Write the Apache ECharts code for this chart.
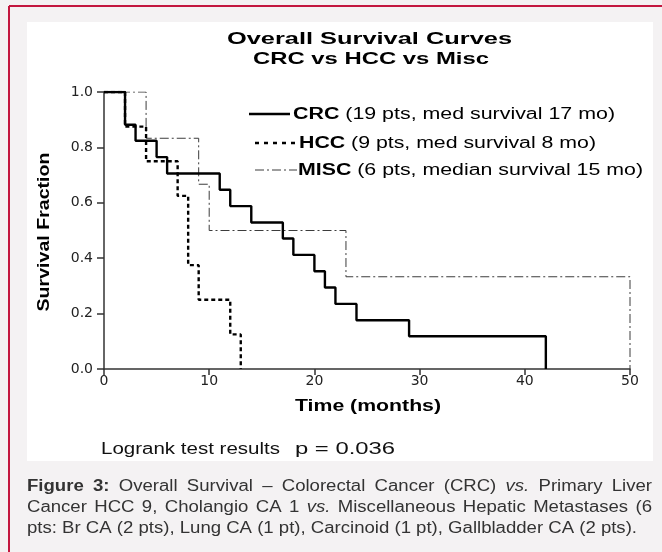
<!DOCTYPE html>
<html>
<head>
<meta charset="utf-8">
<title>Overall Survival Curves</title>
<script src="https://cdn.jsdelivr.net/npm/echarts/dist/echarts.min.js"></script>
<style>
  html, body { margin: 0; padding: 0; background: #f4f2f3; }
  #main { width: 662px; height: 552px; }
</style>
</head>
<body>
<div id="main"></div>
<script>
// Kaplan-Meier steps: time in months, survival fraction after the step
var crcTime = [0, 2, 3, 5, 6, 11, 12, 14, 17, 18, 20, 21, 22, 24, 29, 42];
var crcSurv = [1, 0.882, 0.824, 0.765, 0.706, 0.647, 0.588, 0.529, 0.471, 0.412, 0.353, 0.294, 0.235, 0.176, 0.118, 0];
var hccTime = [0, 2, 4, 7, 8, 9, 12, 13];
var hccSurv = [1, 0.875, 0.75, 0.625, 0.375, 0.25, 0.125, 0];
var miscTime = [0, 4, 9, 10, 23, 50];
var miscSurv = [1, 0.833, 0.667, 0.5, 0.333, 0];

var xTickLabels = ['0', '10', '20', '30', '40', '50'];
var yTickLabels = ['0.0', '0.2', '0.4', '0.6', '0.8', '1.0'];

var groupNames = ['CRC', 'HCC', 'MISC'];
var groupNotes = [' (19 pts, med survival 17 mo)', ' (9 pts, med survival 8 mo)', ' (6 pts, median survival 15 mo)'];

var titleLines = ['Overall Survival Curves', 'CRC vs HCC vs Misc'];
var xTitle = 'Time (months)';
var yTitle = 'Survival Fraction';
var logrankText = ['Logrank test results', 'p = 0.036'];

// caption: [text, weight, style]
var captionLines = [
  [['Figure 3:', 'bold'], [' Overall Survival \u2013 Colorectal Cancer (CRC) '], ['vs.', 'normal', 'italic'], [' Primary Liver']],
  [['Cancer HCC 9, Cholangio CA 1 '], ['vs.', 'normal', 'italic'], [' Miscellaneous Hepatic Metastases (6']],
  [['pts: Br CA (2 pts), Lung CA (1 pt), Carcinoid (1 pt), Gallbladder CA (2 pts).']]
];

var FAM = 'Liberation Sans';
var ctx = document.createElement('canvas').getContext('2d');
function textW(t, size, weight, style) {
  ctx.font = (style || 'normal') + ' ' + (weight || 'normal') + ' ' + size + 'px "' + FAM + '", Arial, sans-serif';
  return ctx.measureText(t).width;
}
function partsW(parts, size) {
  var w = 0;
  parts.forEach(function (p) { w += textW(p[0], size, p[1], p[2]); });
  return w;
}
function textEl(t, x, y, size, weight, style, color, scale, align) {
  return {
    type: 'text', x: x, y: y, scaleX: scale, silent: true, z: 5,
    style: {
      text: t, fontSize: size, fontWeight: weight || 'normal', fontStyle: style || 'normal',
      fontFamily: FAM, fill: color, textAlign: align || 'left', align: align || 'left',
      textVerticalAlign: 'middle', verticalAlign: 'middle'
    }
  };
}
// lay parts one after another, stretched to fit between x0 and x1
function fitRun(parts, x0, x1, y, size, color) {
  var sc = (x1 - x0) / partsW(parts, size);
  var els = [], x = x0;
  parts.forEach(function (p) {
    els.push(textEl(p[0], x, y, size, p[1], p[2], color, sc));
    x += textW(p[0], size, p[1], p[2]) * sc;
  });
  return els;
}
// justified line: split parts into words and spread them to x1
function justify(parts, x0, x1, y, size, sc, color) {
  var words = [];
  parts.forEach(function (p) {
    p[0].split(' ').forEach(function (w) { if (w) words.push([w, p[1], p[2]]); });
  });
  var total = 0;
  words.forEach(function (w) { total += textW(w[0], size, w[1], w[2]) * sc; });
  var gap = (x1 - x0 - total) / (words.length - 1);
  var els = [], x = x0;
  words.forEach(function (w) {
    els.push(textEl(w[0], x, y, size, w[1], w[2], color, sc));
    x += textW(w[0], size, w[1], w[2]) * sc + gap;
  });
  return els;
}

var styles = [
  { color: '#000', width: 2.4, type: 'solid' },
  { color: '#000', width: 2.4, type: [4, 3] },
  { color: '#3c3c3c', width: 1, type: [9, 3, 2, 3] }
];

function pairs(ts, vs) { return ts.map(function (t, i) { return [t, vs[i]]; }); }

var graphics = [];
// white panel behind the plot
graphics.push({ type: 'rect', z: 0, silent: true, shape: { x: 27, y: 22, width: 626, height: 439 }, style: { fill: '#ffffff' } });
graphics.push({ type: 'line', z: 5, silent: true, shape: { x1: 9, y1: 6, x2: 9, y2: 552 }, style: { stroke: '#c3173f', lineWidth: 2 } });
graphics.push({ type: 'line', z: 5, silent: true, shape: { x1: 9, y1: 6, x2: 662, y2: 6 }, style: { stroke: '#c3173f', lineWidth: 2 } });

// title
graphics = graphics.concat(fitRun([[titleLines[0], 'bold']], 227, 512, 39, 17, '#000'));
graphics = graphics.concat(fitRun([[titleLines[1], 'bold']], 253, 489, 59, 17, '#000'));

// legend
var legY = [114, 143, 170];
var legLineX = [[249, 290], [255, 296], [255, 297]];
var legTextX = [[293, 615], [299, 596], [298, 643]];
groupNames.forEach(function (n, i) {
  var st = styles[i];
  graphics.push({
    type: 'line', silent: true, z: 5,
    shape: { x1: legLineX[i][0], y1: legY[i], x2: legLineX[i][1], y2: legY[i] },
    style: { stroke: st.color, lineWidth: st.width, lineDash: i === 1 ? [4, 5] : (st.type === 'solid' ? null : st.type) }
  });
  graphics = graphics.concat(fitRun([[n, 'bold'], [groupNotes[i]]], legTextX[i][0], legTextX[i][1], legY[i] + 1, 16, '#000'));
});

// axis titles
graphics = graphics.concat(fitRun([[xTitle, 'bold']], 295, 441, 407, 16, '#000'));
var yw = textW(yTitle, 17, 'bold');
graphics.push({
  type: 'text', x: 44, y: 232, rotation: Math.PI / 2, scaleX: (312 - 153) / yw, silent: true, z: 5,
  style: { text: yTitle, fontSize: 17, fontWeight: 'bold', fontFamily: FAM, fill: '#000',
    textAlign: 'center', align: 'center', textVerticalAlign: 'middle', verticalAlign: 'middle' }
});

// logrank
graphics = graphics.concat(fitRun([[logrankText[0]]], 101, 280, 450, 16, '#111'));
graphics = graphics.concat(fitRun([[logrankText[1]]], 295, 395, 450, 16, '#111'));

// caption
var capSize = 16;
var capScale = (637 - 27) / partsW(captionLines[2], capSize);
var capY = [487, 508, 529];
captionLines.forEach(function (ln, i) {
  if (i < captionLines.length - 1) {
    graphics = graphics.concat(justify(ln, 27, 652, capY[i], capSize, capScale, '#333'));
  } else {
    graphics = graphics.concat(fitRun(ln, 27, 637, capY[i], capSize, '#333'));
  }
});

var chart = echarts.init(document.getElementById('main'));
chart.setOption({
  backgroundColor: '#f4f2f3',
  animation: false,
  grid: { left: 104, top: 92, width: 526, height: 277, outerBoundsMode: 'none' },
  xAxis: {
    type: 'value', min: 0, max: 50, interval: 10, z: 6,
    axisLine: { lineStyle: { color: '#333', width: 1.5 } },
    axisTick: { length: 6, lineStyle: { color: '#333', width: 1.5 } },
    axisLabel: { color: '#222', fontSize: 14, fontFamily: 'DejaVu Sans', margin: 5,
      formatter: function (v) { return xTickLabels[Math.round(v / 10)]; } },
    splitLine: { show: false }
  },
  yAxis: {
    type: 'value', min: 0, max: 1, interval: 0.2, z: 6,
    axisLine: { show: true, lineStyle: { color: '#333', width: 1.5 } },
    axisTick: { show: true, length: 7, lineStyle: { color: '#333', width: 1.5 } },
    axisLabel: { color: '#222', fontSize: 14, fontFamily: 'DejaVu Sans', margin: 11,
      formatter: function (v) { return yTickLabels[Math.round(v / 0.2)]; } },
    splitLine: { show: false }
  },
  series: [
    { name: groupNames[2], type: 'line', step: 'end', symbol: 'none', z: 7,
      lineStyle: styles[2], data: pairs(miscTime, miscSurv) },
    { name: groupNames[1], type: 'line', step: 'end', symbol: 'none', z: 8,
      lineStyle: styles[1], data: pairs(hccTime, hccSurv) },
    { name: groupNames[0], type: 'line', step: 'end', symbol: 'none', z: 9,
      lineStyle: styles[0], data: pairs(crcTime, crcSurv) }
  ],
  graphic: { elements: graphics }
});
</script>
</body>
</html>
